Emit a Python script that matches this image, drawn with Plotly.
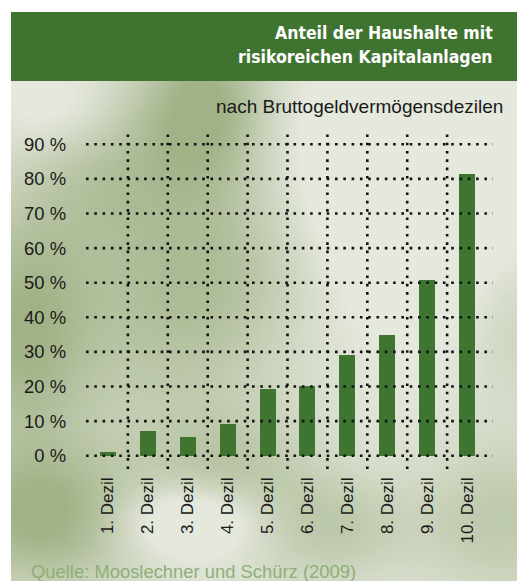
import base64, struct, zlib
import numpy as np
import plotly.graph_objects as go

# ---------------- data ----------------
categories = ["1. Dezil", "2. Dezil", "3. Dezil", "4. Dezil", "5. Dezil",
              "6. Dezil", "7. Dezil", "8. Dezil", "9. Dezil", "10. Dezil"]
values = [1.1, 7.1, 5.4, 9.2, 19.3, 20.1, 29.1, 34.9, 50.8, 81.4]
y_ticks = [0, 10, 20, 30, 40, 50, 60, 70, 80, 90]
y_ticklabels = [f"{v} %" for v in y_ticks]

title_lines = ["Anteil der Haushalte mit", "risikoreichen Kapitalanlagen"]
subtitle = "nach Bruttogeldvermögensdezilen"
source = "Quelle: Mooslechner und Schürz (2009)"

# page is 525x581, the figure sits at an 8px body margin
OFF = 8
W, H = 525 - OFF, 581 - OFF


def px(x):  # page x -> paper fraction
    return (x - OFF) / W


def py(y):  # page y -> paper fraction
    return 1 - (y - OFF) / H


# ---------------- background texture (styling only) ----------------
def make_png(rgb):
    h, w, _ = rgb.shape
    raw = b"".join(b"\x00" + rgb[i].tobytes() for i in range(h))

    def chunk(tag, data):
        c = struct.pack(">I", len(data)) + tag + data
        return c + struct.pack(">I", zlib.crc32(tag + data) & 0xffffffff)
    png = b"\x89PNG\r\n\x1a\n"
    png += chunk(b"IHDR", struct.pack(">IIBBBBB", w, h, 8, 2, 0, 0, 0))
    png += chunk(b"IDAT", zlib.compress(raw, 9))
    png += chunk(b"IEND", b"")
    return "data:image/png;base64," + base64.b64encode(png).decode()


bx0, by0, bx1, by1 = 11, 81, 525, 581
scale = 4
gw, gh = (bx1 - bx0) // scale, (by1 - by0) // scale
xs = bx0 + (np.arange(gw) + 0.5) * scale
ys = by0 + (np.arange(gh) + 0.5) * scale
X, Y = np.meshgrid(xs, ys)
blobs = [
    (205, 100, 45, 60, 0.9), (110, 170, 60, 60, 0.45), (20, 330, 50, 90, 0.85),
    (40, 520, 70, 50, 0.9), (230, 470, 60, 40, 0.4), (330, 530, 60, 40, 0.5),
    (500, 520, 60, 60, 0.55), (170, 300, 70, 80, 0.35), (180, 330, 110, 150, 0.35),
    (250, 250, 60, 60, 0.25), (520, 330, 40, 60, 0.35), (190, 520, 50, 25, -0.75),
    (60, 110, 40, 30, -0.3), (400, 190, 80, 80, -0.55),
]
wgt = np.zeros_like(X, dtype=float)
for cx, cy, sx, sy, a in blobs:
    wgt += a * np.exp(-(((X - cx) / sx) ** 2 + ((Y - cy) / sy) ** 2) / 2)
wgt = np.clip(wgt, 0, 1)[..., None]
light = np.array([229, 232, 221], dtype=float)
green = np.array([160, 178, 134], dtype=float)
img = (light * (1 - wgt) + green * wgt).round().astype(np.uint8)
bg_src = make_png(img)

# ---------------- layout geometry ----------------
x_dom = [px(86), px(493)]
y_dom = [py(469), py(131)]
x_range = [-0.55, len(categories) - 1 + 0.65]
y_range = [-3.85, 93.85]

fig = go.Figure()
fig.add_trace(go.Bar(
    x=list(range(len(categories))), y=values, width=0.4,
    marker=dict(color="#3e7530", line=dict(width=0)),
    hoverinfo="skip", showlegend=False,
))

dot = dict(color="#111111", width=2.6, dash="2.6px,5.7px")
shapes = []
for v in y_ticks:
    shapes.append(dict(type="line", xref="x", yref="y", layer="above",
                       x0=x_range[0], x1=x_range[1], y0=v, y1=v, line=dot))
for i in range(len(categories) - 1):
    shapes.append(dict(type="line", xref="x", yref="y", layer="above",
                       x0=i + 0.5, x1=i + 0.5, y0=y_range[0], y1=y_range[1], line=dot))
# green title band
shapes.append(dict(type="rect", xref="paper", yref="paper", layer="below",
                   x0=px(11), x1=1, y0=py(81), y1=py(12),
                   fillcolor="#3f7430", line=dict(width=0)))

title_font = dict(family="DejaVu Sans Condensed, Liberation Sans Narrow, DejaVu Sans",
                  size=17.5, color="white")
annotations = [
    dict(text="<b>" + title_lines[0] + "</b>", xref="paper", yref="paper",
         x=px(495), y=py(33), xanchor="right", yanchor="middle",
         showarrow=False, font=title_font),
    dict(text="<b>" + title_lines[1] + "</b>", xref="paper", yref="paper",
         x=px(495), y=py(57), xanchor="right", yanchor="middle",
         showarrow=False, font=title_font),
    dict(text=subtitle, xref="paper", yref="paper", x=px(505), y=py(106),
         xanchor="right", yanchor="middle", showarrow=False,
         font=dict(family="Liberation Sans, Arial", size=19, color="#1a1a1a")),
    dict(text=source, xref="paper", yref="paper", x=px(29), y=py(571),
         xanchor="left", yanchor="middle", showarrow=False,
         font=dict(family="Liberation Sans, Arial", size=18.4, color="#8fae78")),
]

fig.update_layout(
    width=W, height=H, margin=dict(l=0, r=0, t=0, b=0),
    paper_bgcolor="white", plot_bgcolor="rgba(0,0,0,0)",
    shapes=shapes, annotations=annotations,
    images=[dict(source=bg_src, xref="paper", yref="paper",
                 x=px(bx0), y=py(by0), sizex=(bx1 - bx0) / W, sizey=(by1 - by0) / H,
                 xanchor="left", yanchor="top", sizing="stretch", layer="below")],
    xaxis=dict(domain=x_dom, range=x_range, tickmode="array",
               tickvals=list(range(len(categories))), ticktext=categories,
               tickangle=-90, showgrid=False, zeroline=False, showline=False,
               ticks="", ticklabelstandoff=4,
               tickfont=dict(family="Liberation Sans, Arial", size=17, color="#1a1a1a")),
    yaxis=dict(domain=y_dom, range=y_range, tickmode="array",
               tickvals=y_ticks, ticktext=y_ticklabels, showgrid=False,
               zeroline=False, showline=False, ticks="", ticklabelstandoff=19,
               tickfont=dict(family="Liberation Sans, Arial", size=18.4, color="#1a1a1a")),
    bargap=0,
)

fig.write_html("out.html")
